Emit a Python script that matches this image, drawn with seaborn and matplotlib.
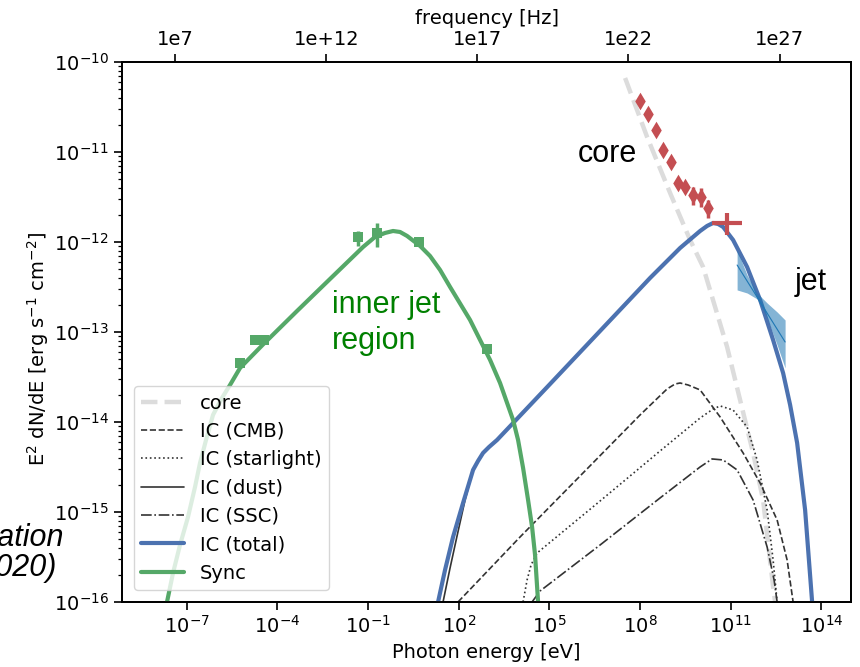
import numpy as np
import matplotlib
matplotlib.use("Agg")
import matplotlib.pyplot as plt
from matplotlib.ticker import NullLocator
import seaborn as sns

H_EV_S = 4.135667696e-15  # Planck constant [eV s]

# ---------------- data (log10 E [eV], log10 E^2dN/dE [erg s^-1 cm^-2]) ----------------
core_logE = [7.504, 8.232, 8.993, 9.655, 10.085, 10.879, 11.309, 11.739, 12.070, 12.401, 12.467]
core_logF = [-10.178, -10.833, -11.456, -11.978, -12.278, -13.167, -13.756, -14.344, -14.867, -15.833, -16.0]

cmb_logE = [1.977, 4.029, 6.015, 8.0, 8.894, 9.158, 9.324, 9.588, 9.986, 10.647, 11.408, 11.971, 12.534, 12.864, 13.063]
cmb_logF = [-16.0, -15.278, -14.6, -13.922, -13.633, -13.578, -13.567, -13.589, -13.644, -13.944, -14.344, -14.678, -15.089, -15.533, -16.0]

star_logE = [4.128, 4.261, 4.393, 4.592, 6.676, 8.662, 9.986, 10.416, 10.647, 11.077, 11.541, 11.872, 12.203, 12.401, 12.534]
star_logF = [-16.0, -15.756, -15.589, -15.456, -14.878, -14.322, -13.956, -13.856, -13.822, -13.867, -14.056, -14.422, -14.978, -15.533, -16.0]

ssc_logE = [4.426, 4.691, 6.676, 8.662, 9.986, 10.383, 10.747, 11.210, 11.739, 12.203, 12.434, 12.534]
ssc_logF = [-16.0, -15.878, -15.367, -14.844, -14.5, -14.411, -14.422, -14.533, -14.867, -15.389, -15.756, -16.0]

dust_logE = [1.481, 1.713, 1.944, 2.209, 2.474, 2.639, 2.805, 3.003, 3.268, 5.022, 6.676, 8.331, 9.324, 9.986,
             10.217, 10.416, 10.581, 10.747, 11.077, 11.541, 11.971, 12.401, 12.732, 12.964, 13.196, 13.46, 13.692]
dust_logF = [-16.0, -15.622, -15.267, -14.867, -14.533, -14.433, -14.344, -14.278, -14.2, -13.578, -12.989, -12.4,
             -12.067, -11.878, -11.822, -11.789, -11.8, -11.833, -11.978, -12.278, -12.644, -13.089, -13.456,
             -13.811, -14.233, -14.978, -16.0]

total_logE = [1.316, 1.547, 1.812, 2.143, 2.474, 2.639, 2.805, 3.003, 3.268, 5.022, 6.676, 8.331, 9.324, 9.986,
              10.217, 10.416, 10.581, 10.747, 11.077, 11.541, 11.971, 12.401, 12.732, 12.964, 13.196, 13.46, 13.692]
total_logF = [-16.0, -15.644, -15.278, -14.9, -14.533, -14.433, -14.344, -14.278, -14.2, -13.578, -12.989, -12.4,
              -12.067, -11.878, -11.822, -11.789, -11.8, -11.833, -11.978, -12.278, -12.644, -13.089, -13.456,
              -13.811, -14.233, -14.978, -16.0]

sync_logE = [-7.652, -7.453, -7.222, -6.957, -6.725, -6.560, -6.361, -6.130, -5.832, -5.567, -5.236, -4.475,
             -3.350, -2.258, -1.166, -0.769, -0.438, -0.173, 0.058, 0.290, 0.721, 1.051, 1.382, 1.713, 2.375,
             3.037, 3.367, 3.798, 3.963, 4.129, 4.294, 4.427, 4.525, 4.625]
sync_logF = [-16.0, -15.678, -15.367, -15.056, -14.722, -14.456, -14.2, -13.922, -13.733, -13.589, -13.4, -13.139,
             -12.767, -12.411, -12.056, -11.944, -11.9, -11.878, -11.889, -11.933, -12.044, -12.156, -12.311, -12.5,
             -12.867, -13.311, -13.567, -13.978, -14.2, -14.511, -14.867, -15.167, -15.478, -16.0]

# inner-jet (synchrotron) measurements
sync_pts_logE = [-5.236, -4.74, -4.44, -1.33, -0.70, 0.686, 2.94]
sync_pts_logF = [-13.344, -13.089, -13.089, -11.95, -11.90, -12.00, -13.19]
sync_pts_logF_lo = [-13.344, -13.089, -13.089, -12.044, -12.056, -12.00, -13.19]
sync_pts_logF_hi = [-13.344, -13.089, -13.089, -11.878, -11.789, -12.00, -13.19]
sync_pts_logE_lo = [-5.236, -4.74, -4.44, -1.33, -0.868, 0.686, 2.94]
sync_pts_logE_hi = [-5.236, -4.74, -4.44, -1.33, -0.538, 0.686, 2.94]

# core measurements (diamonds)
core_pts_logE = [8.0, 8.265, 8.530, 8.761, 9.026, 9.258, 9.490, 9.754, 10.019, 10.253]
core_pts_logF = [-10.433, -10.578, -10.756, -10.978, -11.111, -11.344, -11.389, -11.478, -11.5, -11.622]
core_pts_logF_lo = [-10.433, -10.578, -10.756, -10.978, -11.111, -11.344, -11.389, -11.589, -11.611, -11.733]
core_pts_logF_hi = [-10.433, -10.578, -10.756, -10.978, -11.111, -11.344, -11.389, -11.389, -11.4, -11.533]

# cross (flux point with energy bin)
cross_logE, cross_logE_lo, cross_logE_hi = [10.869], [10.373], [11.366]
cross_logF, cross_logF_lo, cross_logF_hi = [-11.793], [-11.922], [-11.678]

# jet bow-tie
band_logE = [11.210, 11.541, 11.872, 12.203, 12.534, 12.798]
band_logF_up = [-12.089, -12.367, -12.567, -12.678, -12.778, -12.867]
band_logF_lo = [-12.533, -12.567, -12.633, -12.844, -13.144, -13.4]
band_mid_logE = [11.210, 12.798]
band_mid_logF = [-12.256, -13.111]

x_lim_log = [-9.14, 14.98]
y_lim_log = [-16.0, -10.0]
x_tick_exp = [-7, -4, -1, 2, 5, 8, 11, 14]
freq_ticks = [1e7, 1e12, 1e17, 1e22, 1e27]
freq_labels = ["1e7", "1e+12", "1e17", "1e22", "1e27"]

# ---------------- style ----------------
sns.set_theme(style="ticks")
plt.rcParams["font.family"] = ["DejaVu Sans"]
plt.rcParams.update({
    "font.size": 14, "axes.labelsize": 14, "xtick.labelsize": 14, "ytick.labelsize": 14,
    "legend.fontsize": 14, "text.color": "black", "axes.labelcolor": "black",
    "xtick.color": "black", "ytick.color": "black", "axes.edgecolor": "black",
    "axes.linewidth": 1.3, "xtick.major.width": 1.2, "ytick.major.width": 1.2,
    "ytick.minor.width": 0.9, "xtick.major.size": 6, "ytick.major.size": 6, "ytick.minor.size": 3,
})

BLUE = "#4C72B0"
GREEN = "#55A868"
RED = "#C44E52"
DARK = "#333333"

def pw(a):
    return np.power(10.0, np.asarray(a, dtype=float))

fig = plt.figure(figsize=(8.6, 6.67), dpi=100)
ax = fig.add_axes([0.1419, 0.0975, 0.8477, 0.8096])
ax.set_xscale("log")
ax.set_yscale("log")

def curve(logE, logF, **kw):
    sns.lineplot(x=pw(logE), y=pw(logF), ax=ax, sort=False, estimator=None, **kw)

curve(core_logE, core_logF, color="#dcdcdc", lw=3.2, linestyle="--", label="core", zorder=1)
curve(cmb_logE, cmb_logF, color=DARK, lw=1.2, linestyle="--", label="IC (CMB)", zorder=2)
curve(star_logE, star_logF, color=DARK, lw=1.2, linestyle=":", label="IC (starlight)", zorder=2)
curve(dust_logE, dust_logF, color=DARK, lw=1.2, linestyle="-", label="IC (dust)", zorder=2)
curve(ssc_logE, ssc_logF, color=DARK, lw=1.2, linestyle="-.", label="IC (SSC)", zorder=2)
curve(total_logE, total_logF, color=BLUE, lw=3.0, linestyle="-", label="IC (total)", zorder=3)
curve(sync_logE, sync_logF, color=GREEN, lw=3.0, linestyle="-", label="Sync", zorder=4)

# bow-tie
ax.fill_between(pw(band_logE), pw(band_logF_lo), pw(band_logF_up), color="#1f77b4", alpha=0.55,
                lw=0, zorder=5)
sns.lineplot(x=pw(band_mid_logE), y=pw(band_mid_logF), ax=ax, sort=False, estimator=None,
             color="#1f77b4", lw=0.8, zorder=5)

# synchrotron measurements
sx, sy = pw(sync_pts_logE), pw(sync_pts_logF)
ax.errorbar(sx, sy, yerr=[sy - pw(sync_pts_logF_lo), pw(sync_pts_logF_hi) - sy],
            xerr=[sx - pw(sync_pts_logE_lo), pw(sync_pts_logE_hi) - sx],
            fmt="none", ecolor=GREEN, elinewidth=2.5, capsize=0, zorder=5)
sns.scatterplot(x=sx, y=sy, ax=ax, marker="s", s=48, color=GREEN, edgecolor=GREEN, linewidth=0, zorder=6)

# core measurements
cx, cy = pw(core_pts_logE), pw(core_pts_logF)
ax.errorbar(cx, cy, yerr=[cy - pw(core_pts_logF_lo), pw(core_pts_logF_hi) - cy],
            fmt="none", ecolor=RED, elinewidth=2.5, capsize=0, zorder=5)
sns.scatterplot(x=cx, y=cy, ax=ax, marker="d", s=80, color=RED, edgecolor=RED, linewidth=0, zorder=6)

qx, qy = pw(cross_logE), pw(cross_logF)
ax.errorbar(qx, qy, yerr=[qy - pw(cross_logF_lo), pw(cross_logF_hi) - qy],
            xerr=[qx - pw(cross_logE_lo), pw(cross_logE_hi) - qx],
            fmt="none", ecolor=RED, elinewidth=3, capsize=0, zorder=6)

# axes
ax.set_xlim(pw(x_lim_log[0]), pw(x_lim_log[1]))
ax.set_ylim(pw(y_lim_log[0]), pw(y_lim_log[1]))
ax.set_xticks(pw(x_tick_exp), labels=[r"$\mathdefault{10^{%d}}$" % e for e in x_tick_exp])
ax.xaxis.set_minor_locator(NullLocator())
ax.set_xlabel("Photon energy [eV]")
ax.set_ylabel(r"E$^2$ dN/dE [erg s$^{-1}$ cm$^{-2}$]")
ax.yaxis.set_label_coords(-0.097, 0.468)
ax.tick_params(axis="both", which="both", direction="out", right=False, top=False)

ax2 = ax.twiny()
ax2.set_xscale("log")
ax2.set_xlim(pw(x_lim_log[0]) / H_EV_S, pw(x_lim_log[1]) / H_EV_S)
ax2.set_xticks(freq_ticks, labels=freq_labels)
ax2.xaxis.set_minor_locator(NullLocator())
ax2.set_xlabel("frequency [Hz]")
ax2.tick_params(axis="x", direction="out")

# legend
handles, labels = ax.get_legend_handles_labels()
order = ["core", "IC (CMB)", "IC (starlight)", "IC (dust)", "IC (SSC)", "IC (total)", "Sync"]
hmap = dict(zip(labels, handles))
ax.legend([hmap[k] for k in order], order, loc="lower left", frameon=True, labelspacing=0.48,
          handlelength=2.2, handletextpad=0.8, borderaxespad=0.6, borderpad=0.4,
          edgecolor="0.8", framealpha=0.8, fancybox=True)

# annotations
afont = ["Liberation Sans", "DejaVu Sans"]
ax.text(pw(5.95), pw(-11.111), "core", fontsize=22, family=afont, color="black", va="baseline")
ax.text(pw(13.13), pw(-12.533), "jet", fontsize=22, family=afont, color="black", va="baseline")
ax.text(pw(-2.19), pw(-12.789), "inner jet", fontsize=22, family=afont, color="green", va="baseline")
ax.text(pw(-2.19), pw(-13.189), "region", fontsize=22, family=afont, color="green", va="baseline")

fig.text(0.0744, 0.1814, "H.E.S.S. Collaboration", fontsize=22, family=afont, style="italic",
         ha="right", va="baseline", color="black")
fig.text(0.0651, 0.1364, "(Science 2020)", fontsize=22, family=afont, style="italic",
         ha="right", va="baseline", color="black")

fig.savefig("out.png", dpi=100)
